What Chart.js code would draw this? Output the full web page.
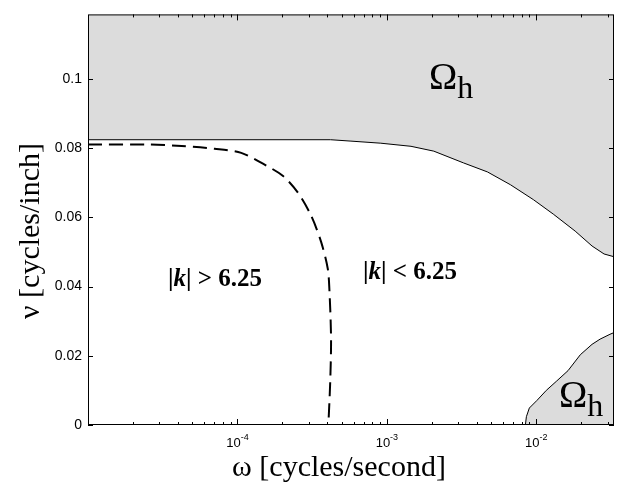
<!DOCTYPE html>
<html lang="en">
  <head>
    <meta charset="UTF-8" />
    <script src="https://cdn.jsdelivr.net/npm/chart.js"></script>
    <title>Omega_h regions</title>
    <style>
      body { margin: 0; background: #fff; }
      #wrap { width: 618px; height: 485px; position: relative; }
    </style>
  </head>
  <body>
    <div id="wrap"><canvas id="myChart"></canvas></div>

    <script>
      // axis ranges and ticks
      const xMin = 1e-5, xMax = 0.0331;
      const yMin = 0, yMax = 0.1186;
      const yTicks = [0, 0.02, 0.04, 0.06, 0.08, 0.1];
      const xTickExps = [-4, -3, -2];

      // upper boundary (grey Omega_h above it)
      const upperX = [1e-5, 4.2e-4, 5.75e-4, 9.1e-4, 1.45e-3, 2.06e-3, 3.26e-3, 4.71e-3, 6.71e-3, 9.55e-3, 0.013, 0.0182, 0.0236, 0.0284, 0.0331];
      const upperY = [0.0824, 0.0824, 0.082, 0.0814, 0.0805, 0.0791, 0.0757, 0.0731, 0.0694, 0.0651, 0.0609, 0.056, 0.0517, 0.0494, 0.0486];

      // lower right grey region
      const lowerX = [8.45e-3, 8.58e-3, 8.98e-3, 0.0101, 0.01166, 0.0136, 0.0163, 0.0197, 0.0236, 0.0267, 0.0311, 0.0331];
      const lowerY = [0, 0.0024, 0.0049, 0.0071, 0.01, 0.0126, 0.0157, 0.0203, 0.0233, 0.0248, 0.0262, 0.0267];

      // |k| = 6.25 contour (dashed)
      const kX = [1e-5, 2.54e-5, 4.23e-5, 7.03e-5, 1.06e-4, 1.52e-4, 2.02e-4, 2.54e-4, 3.11e-4, 3.63e-4, 4.02e-4, 4.12e-4, 4.23e-4, 4.18e-4, 4.06e-4];
      const kY = [0.081, 0.081, 0.0806, 0.0798, 0.0786, 0.0752, 0.0719, 0.0671, 0.0605, 0.0529, 0.0452, 0.0395, 0.0252, 0.0129, 0];

      const pts = (xs, ys) => xs.map((v, i) => ({ x: v, y: ys[i] }));

      const SANS = '"Liberation Sans", Arial, sans-serif';
      const SERIF = '"Liberation Serif", "Times New Roman", serif';

      // box, inward ticks, tick labels with superscripts, titles and region labels
      const frame = {
        id: "frame",
        afterDatasetsDraw(chart) {
          const { ctx, chartArea: a, scales } = chart;
          const x = scales.x, y = scales.y;
          ctx.save();
          ctx.strokeStyle = "#000";
          ctx.lineWidth = 1;
          ctx.strokeRect(a.left + 0.5, a.top + 0.5, a.right - a.left - 1, a.bottom - a.top - 1);

          ctx.beginPath();
          for (let e = -5; e <= -2; e++) {
            for (let m = 1; m <= 9; m++) {
              const v = m * Math.pow(10, e);
              if (v <= xMin || v >= xMax) continue;
              const px = Math.round(x.getPixelForValue(v)) + 0.5;
              const len = m === 1 ? 6 : 3;
              ctx.moveTo(px, a.bottom); ctx.lineTo(px, a.bottom - len);
              ctx.moveTo(px, a.top); ctx.lineTo(px, a.top + len);
            }
          }
          yTicks.forEach((v) => {
            const py = Math.round(y.getPixelForValue(v)) + 0.5;
            ctx.moveTo(a.left, py); ctx.lineTo(a.left + 5, py);
            ctx.moveTo(a.right, py); ctx.lineTo(a.right - 5, py);
          });
          ctx.stroke();

          // x tick labels: 10 with superscript exponent
          ctx.fillStyle = "#000";
          ctx.textBaseline = "alphabetic";
          ctx.textAlign = "left";
          xTickExps.forEach((e) => {
            const px = x.getPixelForValue(Math.pow(10, e));
            ctx.font = "13px " + SANS;
            const w1 = ctx.measureText("10").width;
            ctx.font = "9px " + SANS;
            const sup = String(e);
            const w2 = ctx.measureText(sup).width;
            const x0 = px - (w1 + w2) / 2;
            ctx.font = "13px " + SANS;
            ctx.fillText("10", x0, 447);
            ctx.font = "9px " + SANS;
            ctx.fillText(sup, x0 + w1, 440);
          });

          // axis titles
          ctx.font = "30px " + SERIF;
          ctx.textAlign = "center";
          ctx.fillText("ω [cycles/second]", 339, 476);
          ctx.save();
          ctx.translate(31, 231);
          ctx.rotate(-Math.PI / 2);
          ctx.textBaseline = "middle";
          ctx.fillText("ν [cycles/inch]", 0, 0);
          ctx.restore();

          // region labels
          const omega = (ox, oy) => {
            ctx.textAlign = "left";
            ctx.font = "38px " + SERIF;
            ctx.fillText("Ω", ox, oy);
            const w = ctx.measureText("Ω").width;
            ctx.font = "32px " + SERIF;
            ctx.fillText("h", ox + w, oy + 9);
          };
          omega(429, 89);
          omega(559, 407);

          const kLabel = (kx, ky, rel) => {
            ctx.textAlign = "left";
            let cx = kx;
            const parts = [
              ["bold 25px " + SERIF, "|"],
              ["italic bold 25px " + SERIF, "k"],
              ["bold 25px " + SERIF, "| " + rel + " 6.25"],
            ];
            parts.forEach(([f, t]) => {
              ctx.font = f;
              ctx.fillText(t, cx, ky);
              cx += ctx.measureText(t).width;
            });
          };
          kLabel(168, 286, ">");
          kLabel(363, 279, "<");
          ctx.restore();
        },
      };

      const ctx = document.getElementById("myChart");

      const chart = new Chart(ctx, {
        type: "line",
        data: {
          datasets: [
            {
              label: "upper",
              data: pts(upperX, upperY),
              borderColor: "#000",
              borderWidth: 1,
              backgroundColor: "#dcdcdc",
              fill: "end",
              pointRadius: 0,
              tension: 0,
            },
            {
              label: "lower",
              data: pts(lowerX, lowerY),
              borderColor: "#000",
              borderWidth: 1,
              backgroundColor: "#dcdcdc",
              fill: "origin",
              pointRadius: 0,
              tension: 0,
            },
            {
              label: "k",
              data: pts(kX, kY),
              borderColor: "#000",
              borderWidth: 2,
              borderDash: [14, 7],
              fill: false,
              pointRadius: 0,
              tension: 0.3,
            },
          ],
        },
        options: {
          responsive: true,
          maintainAspectRatio: false,
          animation: false,
          layout: { padding: { top: 10, right: 4, left: 0, bottom: 0 } },
          plugins: { legend: { display: false }, tooltip: { enabled: false } },
          scales: {
            x: {
              type: "logarithmic",
              min: xMin,
              max: xMax,
              grid: { display: false },
              border: { display: false },
              ticks: { display: false },
              afterFit: (s) => { s.height = 60; },
            },
            y: {
              min: yMin,
              max: yMax,
              grid: { display: false, drawTicks: false },
              border: { display: false },
              afterFit: (s) => { s.width = 88; },
              ticks: {
                stepSize: 0.02,
                includeBounds: false,
                padding: 6,
                color: "#000",
                font: { family: SANS, size: 14 },
                callback: (v) => {
                  const r = Math.round(v * 100) / 100;
                  return Math.abs(r - v) < 1e-9 ? String(r) : "";
                },
              },
            },
          },
        },
        plugins: [frame],
      });
    </script>
  </body>
</html>
